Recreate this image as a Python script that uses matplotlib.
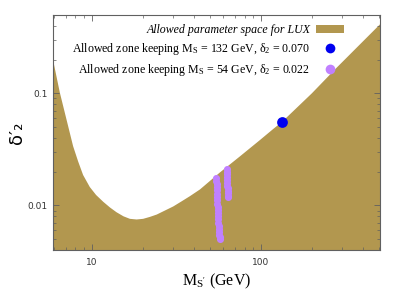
import matplotlib
matplotlib.use("Agg")
import matplotlib.pyplot as plt
from matplotlib.patches import Patch
from matplotlib.lines import Line2D
from matplotlib.ticker import LogLocator, NullFormatter, FixedFormatter, FixedLocator

plt.rcParams['mathtext.fontset'] = 'custom'
plt.rcParams['mathtext.rm'] = 'Liberation Serif'
plt.rcParams['mathtext.it'] = 'Liberation Serif:italic'

# Boundary of allowed LUX region (fill below curve)
curve_x = [5.88, 6.47, 7.08, 7.75, 8.3, 8.88, 9.73, 10.6, 11.67, 12.8, 14.0, 15.4,
           16.8, 18.4, 20.1, 22.0, 24.2, 27.0, 30.3, 34.0, 38.0, 43.6, 57.2, 75.1,
           98.6, 118.0, 133.0, 200.0, 280.0, 520.0]
curve_y = [0.203, 0.1015, 0.0586, 0.0338, 0.0247, 0.0187, 0.0146, 0.0124, 0.0108,
           0.0096, 0.0087, 0.0080, 0.0076, 0.0075, 0.0076, 0.0079, 0.0083, 0.0090,
           0.0098, 0.0109, 0.0121, 0.0139, 0.0197, 0.0274, 0.0383, 0.0480, 0.0555,
           0.100, 0.169, 0.43]

# Point for M_S = 132 GeV
blue_x = [133.0]
blue_y = [0.055]

# Allowed zone points for M_S = 54 GeV
purple1_x = [54.5, 54.6, 54.7, 54.8, 54.9, 55.0, 55.1, 55.2, 55.3, 55.4, 55.5,
             55.6, 55.7, 55.8, 56.0, 56.2, 56.3, 56.5, 56.7, 56.9, 57.1]
purple1_y = [0.0175, 0.0165, 0.0155, 0.0145, 0.0136, 0.0127, 0.0119, 0.0111, 0.0104,
             0.0097, 0.0091, 0.0085, 0.0080, 0.0075, 0.0070, 0.0066, 0.0062, 0.0058,
             0.0055, 0.0052, 0.0050]
purple2_x = [63.3, 63.3, 63.3, 63.4, 63.4, 63.4, 63.4, 63.5, 63.5, 63.5, 63.5, 63.5]
purple2_y = [0.021, 0.020, 0.019, 0.018, 0.017, 0.016, 0.015, 0.0142, 0.0135,
             0.0128, 0.0122, 0.0118]

x_ticks = [10, 100]
x_labels = ["10", "100"]
y_ticks = [0.01, 0.1]
y_labels = ["0.01", "0.1"]

fill_color = '#B2974F'
blue_color = '#0000F0'
purple_color = '#C080FF'

fig = plt.figure(figsize=(4.02, 3.05), dpi=100)
ax = fig.add_axes([0.132, 0.180, 0.813, 0.771])

ax.fill_between(curve_x, curve_y, 1e-4, color=fill_color, linewidth=0)
ax.scatter(purple1_x, purple1_y, s=26, color=purple_color, zorder=3, linewidths=0)
ax.scatter(purple2_x, purple2_y, s=26, color=purple_color, zorder=3, linewidths=0)
ax.scatter(blue_x, blue_y, s=60, color=blue_color, zorder=4, linewidths=0)

ax.set_xscale('log')
ax.set_yscale('log')
ax.set_xlim(5.9, 505)
ax.set_ylim(0.004, 0.5)

ax.xaxis.set_major_locator(FixedLocator(x_ticks))
ax.xaxis.set_major_formatter(FixedFormatter(x_labels))
ax.yaxis.set_major_locator(FixedLocator(y_ticks))
ax.yaxis.set_major_formatter(FixedFormatter(y_labels))
ax.xaxis.set_minor_locator(LogLocator(base=10, subs=range(2, 10)))
ax.yaxis.set_minor_locator(LogLocator(base=10, subs=range(2, 10)))
ax.xaxis.set_minor_formatter(NullFormatter())
ax.yaxis.set_minor_formatter(NullFormatter())

ax.tick_params(which='both', direction='in', top=True, right=True, colors='#606060',
               labelcolor='#333333', labelsize=6.5)
ax.tick_params(which='major', length=4, width=0.6)
ax.tick_params(which='minor', length=2, width=0.5)
ax.tick_params(axis='x', pad=6)
ax.tick_params(axis='y', pad=4)
for sp in ax.spines.values():
    sp.set_color('#606060')
    sp.set_linewidth(0.8)

ax.set_xlabel(r"$\mathrm{M_{S^{\prime}}}$ (GeV)", family='Liberation Serif', fontsize=11.5, labelpad=3)
ax.set_ylabel("δ′₂", family='DejaVu Sans', fontsize=13, labelpad=1)

handles = [
    Patch(facecolor=fill_color, edgecolor='none'),
    Line2D([], [], linestyle='none', marker='o', markersize=7, color=blue_color, markeredgewidth=0),
    Line2D([], [], linestyle='none', marker='o', markersize=7, color=purple_color, markeredgewidth=0),
]
labels = [
    "Allowed parameter space for LUX",
    r"Allowed zone keeping $\mathrm{M_S}$ = 132 GeV, $\mathrm{\delta_2}$ = 0.070",
    r"Allowed zone keeping $\mathrm{M_S}$ = 54 GeV, $\mathrm{\delta_2}$ = 0.022",
]
leg = ax.legend(handles, labels, loc='upper right', bbox_to_anchor=(0.89, 0.96),
                frameon=False, markerfirst=False, borderaxespad=0, borderpad=0,
                handlelength=2.3, handletextpad=0.5, labelspacing=0.4,
                prop={'family': 'Liberation Serif', 'size': 8.6})
leg.get_texts()[0].set_style('italic')

fig.savefig('out.png', dpi=100)
